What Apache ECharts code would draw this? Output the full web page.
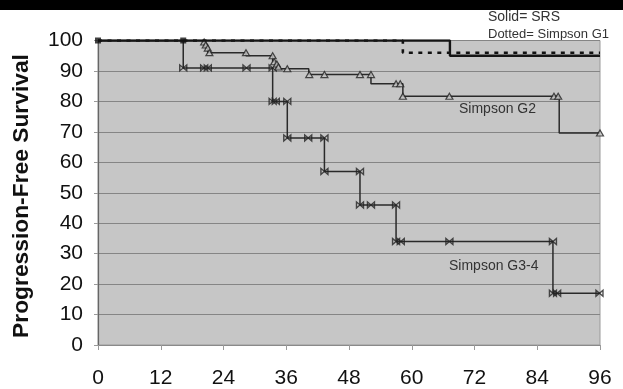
<!DOCTYPE html>
<html>
<head>
<meta charset="utf-8">
<script src="https://cdn.jsdelivr.net/npm/echarts@6/dist/echarts.min.js"></script>
<style>
html,body{margin:0;padding:0;background:#fff;overflow:hidden;}
#c{width:623px;height:389px;}
</style>
</head>
<body>
<div id="c"></div>
<script>
// ---- data (months, % progression-free) ----
const xTicks = [0, 12, 24, 36, 48, 60, 72, 84, 96];
const yTicks = [0, 10, 20, 30, 40, 50, 60, 70, 80, 90, 100];

// SRS (solid)
const srsX = [0, 67.3, 96];
const srsY = [100, 95, 95];
const srsMarkX = [0, 16.3];
const srsMarkY = [100, 100];

// Simpson G1 (dotted)
const g1X = [0, 58.3, 96];
const g1Y = [100, 96, 96];

// Simpson G2 (triangles)
const g2X = [0, 20.3, 20.6, 21.0, 28.3, 33.4, 33.8, 34.3, 40.3, 52.2, 58.3, 88.2, 96];
const g2Y = [100, 98.5, 97.5, 96, 95, 93, 92.3, 90.7, 88.8, 85.8, 81.7, 69.6, 69.6];
const g2MarkX = [20.3, 20.6, 21.0, 21.3, 28.3, 33.4, 33.7, 34.2, 34.5, 36.2, 40.4, 43.3, 50.1, 52.2, 57.0, 57.8, 58.3, 67.2, 87.2, 88.0, 96];
const g2MarkY = [99.5, 98.5, 97.5, 96, 96, 95, 93, 92.3, 91.3, 90.7, 88.8, 88.8, 88.8, 88.8, 85.8, 85.8, 81.7, 81.7, 81.7, 81.7, 69.6];

// Simpson G3-4 (crosses)
const g3X = [0, 16.3, 33.4, 36.2, 43.3, 50.1, 57.0, 87.0, 96];
const g3Y = [100, 91, 80, 68, 57, 46, 34, 17, 17];
const g3MarkX = [16.3, 20.3, 21.0, 28.4, 33.4, 33.4, 34.0, 36.2, 36.2, 40.2, 43.3, 43.3, 50.1, 50.1, 52.2, 57.0, 57.0, 57.9, 67.2, 87.0, 87.0, 87.8, 95.9];
const g3MarkY = [91, 91, 91, 91, 91, 80, 80, 80, 68, 68, 68, 57, 57, 46, 46, 46, 34, 34, 34, 34, 17, 17, 17];

const labels = [
  {text: 'Simpson G2', x: 459, y: 109},
  {text: 'Simpson G3-4', x: 449, y: 266}
];
const notes = ['Solid= SRS', 'Dotted= Simpson G1'];
const yTitle = 'Progression-Free Survival';

const zip = (a, b) => a.map((v, i) => [v, b[i]]);
const FONT = '"Liberation Sans", Arial, sans-serif';

const chart = echarts.init(document.getElementById('c'), null, {renderer: 'canvas', width: 623, height: 389});
chart.setOption({
  animation: false,
  backgroundColor: '#ffffff',
  grid: {
    left: 98, right: 23, top: 40.5, bottom: 42,
    show: true, backgroundColor: '#c6c6c6', borderColor: '#9a9a9a', borderWidth: 1
  },
  xAxis: {
    type: 'value', min: xTicks[0], max: xTicks[xTicks.length - 1], interval: 12,
    axisLine: {show: true, lineStyle: {color: '#8a8a8a', width: 1}},
    axisTick: {show: true, length: 5, lineStyle: {color: '#9a9a9a'}},
    splitLine: {show: false},
    axisLabel: {fontSize: 21, color: '#111', fontFamily: FONT, margin: 23}
  },
  yAxis: {
    type: 'value', min: yTicks[0], max: yTicks[yTicks.length - 1], interval: 10,
    axisLine: {show: true, lineStyle: {color: '#666', width: 1.2}},
    axisTick: {show: true, length: 4, lineStyle: {color: '#9a9a9a'}},
    splitLine: {show: true, lineStyle: {color: '#858585', width: 1}},
    axisLabel: {fontSize: 21, color: '#111', fontFamily: FONT, margin: 15}
  },
  series: [
    {
      type: 'line', step: 'end', data: zip(g3X, g3Y), showSymbol: false, symbol: 'none',
      lineStyle: {color: '#2a2a2a', width: 1.5}, z: 2
    },
    {
      type: 'scatter', data: zip(g3MarkX, g3MarkY),
      symbol: 'path://M0,0L10,10L10,0L0,10Z', symbolSize: [7, 6],
      itemStyle: {color: 'rgba(0,0,0,0)', borderColor: '#222', borderWidth: 1.3}, z: 5
    },
    {
      type: 'line', step: 'end', data: zip(g2X, g2Y), showSymbol: false, symbol: 'none',
      lineStyle: {color: '#2a2a2a', width: 1.5}, z: 3
    },
    {
      type: 'scatter', data: zip(g2MarkX, g2MarkY),
      symbol: 'triangle', symbolSize: [7, 6],
      itemStyle: {color: '#c6c6c6', borderColor: '#222', borderWidth: 1.2}, z: 6
    },
    {
      type: 'line', step: 'end', data: zip(g1X, g1Y), showSymbol: false, symbol: 'none',
      lineStyle: {color: '#111', width: 2.6, type: [4, 5.5]}, z: 4
    },
    {
      type: 'line', step: 'end', data: zip(srsX, srsY), showSymbol: false, symbol: 'none',
      lineStyle: {color: '#151515', width: 2.4}, z: 7
    },
    {
      type: 'scatter', data: zip(srsMarkX, srsMarkY),
      symbol: 'rect', symbolSize: 6,
      itemStyle: {color: '#111'}, z: 8
    }
  ],
  graphic: [
    {type: 'rect', left: 0, top: 0, shape: {width: 623, height: 10}, style: {fill: '#000'}, z: 100},
    {type: 'text', x: 22, y: 196, rotation: Math.PI / 2,
      style: {text: yTitle, font: 'bold 22.8px ' + FONT, fill: '#111', align: 'center', verticalAlign: 'middle'}},
    {type: 'text', x: 488, y: 17,
      style: {text: notes[0], font: '14px ' + FONT, fill: '#333', align: 'left', verticalAlign: 'middle'}},
    {type: 'text', x: 488, y: 34,
      style: {text: notes[1], font: '13px ' + FONT, fill: '#333', align: 'left', verticalAlign: 'middle'}},
    ...labels.map(l => ({type: 'text', x: l.x, y: l.y, z: 50,
      style: {text: l.text, font: '14px ' + FONT, fill: '#333', align: 'left', verticalAlign: 'middle'}}))
  ]
});
</script>
</body>
</html>
